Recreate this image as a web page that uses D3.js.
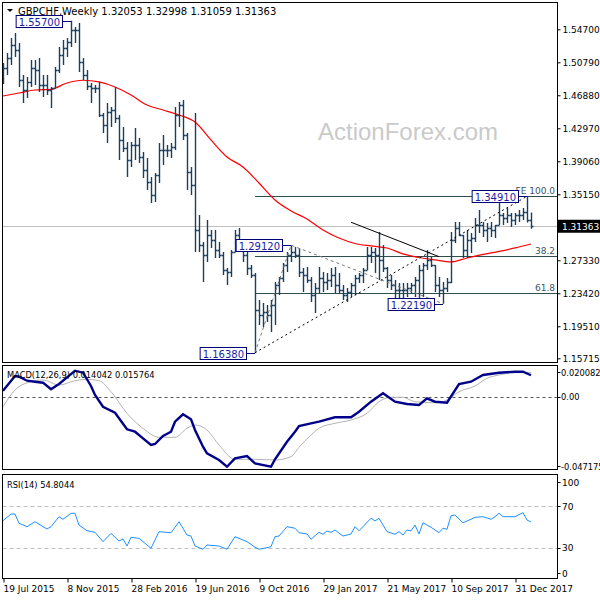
<!DOCTYPE html>
<html><head><meta charset="utf-8">
<script src="https://cdn.jsdelivr.net/npm/d3@7"></script>
<style>
body{margin:0;background:#fff}
svg{display:block}
text{font-family:'DejaVu Sans',sans-serif;font-size:9px}
</style>
</head><body><svg id="c" width="600" height="600"></svg>
<script>
// ---------------- DATA ----------------
const symbolTitle = "GBPCHF,Weekly";
const lastOHLC = [1.32053, 1.32998, 1.31059, 1.31363];
const opens = [1.4869,1.5012,1.5130,1.5284,1.5225,1.4869,1.4751,1.4846,1.5012,1.4988,
1.4810,1.4810,1.4751,1.4775,1.4988,1.5166,1.5249,1.5320,1.5462,1.5462,
1.5083,1.4929,1.4798,1.4775,1.4775,1.4455,1.4336,1.4490,1.4514,1.4419,
1.4159,1.4064,1.3922,1.4099,1.4099,1.3957,1.3803,1.3661,1.3507,1.3744,
1.4040,1.4040,1.4040,1.4076,1.4455,1.4573,1.4218,1.3779,1.3625,1.3092,
1.2914,1.2796,1.3033,1.2974,1.2855,1.2796,1.2618,1.2595,1.2832,1.3033,
1.2938,1.2796,1.2642,1.2559,1.2144,1.2085,1.2121,1.2085,1.2204,1.2441,
1.2524,1.2678,1.2796,1.2832,1.2796,1.2595,1.2559,1.2500,1.2322,1.2405,
1.2524,1.2476,1.2500,1.2559,1.2441,1.2381,1.2322,1.2358,1.2441,1.2524,
1.2559,1.2618,1.2796,1.2832,1.2796,1.2737,1.2642,1.2500,1.2441,1.2381,
1.2381,1.2381,1.2405,1.2441,1.2500,1.2618,1.2678,1.2737,1.2678,1.2441,
1.2381,1.2405,1.2476,1.2974,1.3116,1.3033,1.2855,1.2974,1.2997,1.3151,
1.3151,1.3092,1.3116,1.3092,1.3151,1.3270,1.3234,1.3270,1.3211,1.3270,
1.3270,1.3306,1.32053];
const highs = [1.5071,1.5189,1.5367,1.5426,1.5308,1.4929,1.4905,1.5106,1.5106,1.5130,
1.4929,1.4929,1.4786,1.5023,1.5260,1.5343,1.5367,1.5570,1.5497,1.5545,
1.5130,1.4988,1.4834,1.4810,1.4846,1.4478,1.4597,1.4550,1.4786,1.4455,
1.4313,1.4135,1.4135,1.4301,1.4182,1.4016,1.3945,1.3720,1.3767,1.4123,
1.4218,1.4099,1.4123,1.4550,1.4609,1.4632,1.4241,1.3839,1.4478,1.3270,
1.2950,1.3211,1.3092,1.3092,1.2950,1.2832,1.2642,1.2855,1.3092,1.3116,
1.2950,1.2855,1.2678,1.2583,1.2263,1.2227,1.2204,1.2263,1.2476,1.2535,
1.2701,1.2832,1.2912,1.2891,1.2879,1.2642,1.2654,1.2535,1.2464,1.2654,
1.2595,1.2583,1.2642,1.2654,1.2583,1.2441,1.2405,1.2464,1.2559,1.2583,
1.2642,1.2891,1.2891,1.2879,1.3068,1.2914,1.2654,1.2559,1.2500,1.2464,
1.2464,1.2464,1.2464,1.2535,1.2678,1.2701,1.2855,1.2772,1.2678,1.2535,
1.2476,1.2524,1.3068,1.3187,1.3187,1.3033,1.3092,1.3057,1.3234,1.3329,
1.3187,1.3175,1.3187,1.3151,1.3471,1.3294,1.3353,1.3294,1.3294,1.3329,
1.3353,1.3491,1.32998];
const lows = [1.4822,1.4929,1.5047,1.5142,1.4786,1.4597,1.4656,1.4786,1.4810,1.4727,
1.4668,1.4692,1.4538,1.4775,1.4952,1.5047,1.5142,1.5260,1.5308,1.4964,
1.4869,1.4751,1.4597,1.4715,1.4431,1.4241,1.4123,1.4313,1.4360,1.3922,
1.4016,1.3720,1.3839,1.3922,1.3886,1.3708,1.3566,1.3412,1.3424,1.3649,
1.3862,1.3957,1.3945,1.4040,1.4313,1.4159,1.3566,1.3507,1.2832,1.2832,
1.2476,1.2713,1.2879,1.2760,1.2760,1.2559,1.2441,1.2535,1.2832,1.2891,
1.2713,1.2559,1.2524,1.1638,1.1967,1.1943,1.2002,1.1884,1.1967,1.2322,
1.2476,1.2595,1.2713,1.2760,1.2535,1.2358,1.2464,1.2239,1.2109,1.2346,
1.2358,1.2381,1.2417,1.2346,1.2346,1.2263,1.2239,1.2298,1.2322,1.2464,
1.2464,1.2618,1.2701,1.2583,1.2500,1.2595,1.2405,1.2381,1.2263,1.2263,
1.2263,1.2298,1.2346,1.2298,1.2287,1.2298,1.2618,1.2654,1.2358,1.2298,
1.2219,1.2358,1.2464,1.2938,1.3033,1.2760,1.2760,1.2820,1.2950,1.3057,
1.3009,1.2950,1.3009,1.2997,1.3151,1.3151,1.3175,1.3128,1.3151,1.3187,
1.3211,1.3180,1.31059];
const closes = [1.5012,1.5130,1.5284,1.5225,1.4869,1.4751,1.4846,1.5012,1.4988,1.4810,
1.4810,1.4751,1.4775,1.4988,1.5166,1.5249,1.5320,1.5462,1.5462,1.5083,
1.4929,1.4798,1.4775,1.4775,1.4455,1.4336,1.4490,1.4514,1.4419,1.4159,
1.4064,1.3922,1.4099,1.4099,1.3957,1.3803,1.3661,1.3507,1.3744,1.4040,
1.4040,1.4040,1.4076,1.4455,1.4573,1.4218,1.3779,1.3625,1.3092,1.2914,
1.2796,1.3033,1.2974,1.2855,1.2796,1.2618,1.2595,1.2832,1.3033,1.2938,
1.2796,1.2642,1.2559,1.2144,1.2085,1.2121,1.2085,1.2204,1.2441,1.2524,
1.2678,1.2796,1.2832,1.2796,1.2595,1.2559,1.2500,1.2322,1.2405,1.2524,
1.2476,1.2500,1.2559,1.2441,1.2381,1.2322,1.2358,1.2441,1.2524,1.2559,
1.2618,1.2796,1.2832,1.2796,1.2737,1.2642,1.2500,1.2441,1.2381,1.2381,
1.2381,1.2405,1.2441,1.2500,1.2618,1.2678,1.2737,1.2678,1.2441,1.2381,
1.2405,1.2476,1.2974,1.3116,1.3033,1.2855,1.2974,1.2997,1.3151,1.3151,
1.3092,1.3116,1.3092,1.3151,1.3270,1.3234,1.3270,1.3211,1.3270,1.3270,
1.3306,1.3205,1.31363];

// red moving average (read every 4 bars)
const maIdx = [0,4,8,12,16,20,24,28,32,36,40,44,48,52,56,60,64,68,72,76,80,84,88,92,96,100,104,108,112,116,120,124,128,132];
const maVal = [1.4680,1.4715,1.4751,1.4759,1.4834,1.4866,1.4846,1.4786,1.4692,1.4573,1.4514,1.4455,1.4372,1.4159,1.3957,1.3839,1.3649,1.3448,1.3318,1.3223,1.3092,1.2997,1.2932,1.2903,1.2879,1.2808,1.2766,1.2737,1.2713,1.2760,1.2802,1.2838,1.2879,1.2926];

// price axis ticks
const priceTicks = [1.547,1.5079,1.4688,1.4297,1.3906,1.3515,1.2733,1.2342,1.1951,1.15715];

// swing pivots
const pivotIdx = [17,63,72,110,131];
const pivotVal = [1.557,1.1638,1.2912,1.2219,1.3491];

// fibonacci levels
const fibVal = [1.3493,1.2784,1.2347];
const fibLabel = ["FE 100.0","38.2","61.8"];
const fibStart = 63;

// trend line
const trendIdx = [87,109];
const trendVal = [1.3184,1.2776];

// MACD main and signal
const macdIdx = [0,3,4,6,8,10,12,14,16,18,20,22,23,25,28,29,31,33,35,37,38,40,42,43,45,47,48,50,51,54,56,58,61,63,67,68,71,73,74,77,79,83,87,89,92,95,98,101,104,106,108,111,114,117,120,124,128,130,132];
const macdVal = [0.00395,0.01355,0.01309,0.01048,0.00983,0.00918,0.00487,0.00833,0.0127,0.01701,0.01571,0.00702,0.00114,-0.0065,-0.01042,-0.01407,-0.02126,-0.02282,-0.02713,-0.03151,-0.03085,-0.02563,-0.02282,-0.01629,-0.01146,-0.01472,-0.02171,-0.03262,-0.03693,-0.0413,-0.04568,-0.04019,-0.03869,-0.04346,-0.04568,-0.04084,-0.02935,-0.02282,-0.0191,-0.01734,-0.01629,-0.01342,-0.01342,-0.00976,-0.00323,0.00225,-0.00323,-0.00473,-0.00539,-0.00101,-0.00323,-0.00388,0.00833,0.00983,0.0142,0.01571,0.01636,0.01636,0.014042];
const sigIdx = [0,3,7,10,14,18,21,24,27,31,35,39,43,46,48,51,54,58,63,68,72,74,77,79,83,87,91,94,97,100,103,108,111,114,118,121,124,128,132];
const sigVal = [-0.0065,0.00441,0.00983,0.01094,0.00767,0.01048,0.0114,0.01048,0.0033,-0.01081,-0.0206,-0.02648,-0.02648,-0.0206,-0.01845,-0.02171,-0.03151,-0.04084,-0.04084,-0.0413,-0.03915,-0.03301,-0.02498,-0.0206,-0.01734,-0.01518,-0.01081,-0.00323,-0.00036,-0.00036,-0.00323,-0.00388,-0.00212,0.0033,0.00702,0.01205,0.0142,0.01571,0.015764];
const macdMax = 0.020082, macdMin = -0.047175;

// RSI
const rsiIdx = [0,2,3,4,6,8,10,11,12,14,15,17,18,19,21,23,25,27,29,30,31,32,34,36,37,39,42,43,44,46,47,48,50,51,54,56,58,60,61,63,64,66,67,68,69,71,73,74,76,77,79,80,81,82,83,85,87,88,89,92,93,94,96,98,99,100,101,102,103,104,105,107,109,110,111,112,113,115,117,118,120,122,123,124,125,128,130,131,132];
const rsiVal = [56.1,62.5,62.5,53.6,50.3,55.1,50.3,48.1,50.3,59.9,57.4,63.2,63.2,51.9,46.4,44.9,35.9,43.9,36.5,38.5,31.7,40.1,39.1,32.7,29.5,45.5,44.5,49.7,55.1,42.3,41.3,31.7,28.6,32.7,31.7,28.6,40.7,37.5,35.9,30.5,28.6,30.1,31.1,40.7,41.3,50.3,48.8,44.5,43.3,38.2,44.9,43.0,46.2,44.9,47.1,41.3,43.3,50.3,46.4,58.4,55.8,58.4,45.5,43.0,45.5,42.3,47.1,46.2,51.9,43.3,54.1,49.7,44.5,48.8,47.8,60.9,61.5,54.1,57.4,59.3,59.9,57.4,59.9,63.2,59.9,59.9,63.8,56.7,54.8];
const rsiLast = "54.8044";
const rsiTicks = [100,70,30,0];

// date axis
const dateIdx = [0,16,32,48,64,80,96,112,128];
const dateLabel = ["19 Jul 2015","8 Nov 2015","28 Feb 2016","19 Jun 2016","9 Oct 2016","29 Jan 2017","21 May 2017","10 Sep 2017","31 Dec 2017"];

// ---------------- DRAW ----------------
const svg = d3.select('#c');
const LX = 2.5, RX = 557.5;
const P = {t:2.5, b:362.5}, M = {t:365.5, b:469.5}, S = {t:474.5, b:578.5};
const x = d3.scaleLinear().domain([0,132]).range([3,531]);
const y = d3.scaleLinear().domain([1.15715,1.547]).range([358.3,29.3]);
const ym = d3.scaleLinear().domain([macdMin,macdMax]).range([469,366]);
const yr = d3.scaleLinear().domain([0,100]).range([579,475]);
const f5 = d3.format('.5f');
const barColor = '#1b3e5c';

const defs = svg.append('defs');
[['cp',P],['cm',M],['cr',S]].forEach(([id,p])=>{
  defs.append('clipPath').attr('id',id).append('rect')
    .attr('x',LX).attr('y',p.t).attr('width',RX-LX).attr('height',p.b-p.t);
});

// ---- price panel
const gp = svg.append('g').attr('clip-path','url(#cp)');
gp.append('text').attr('x',318).attr('y',140).text('ActionForex.com')
  .style('font-family',"'Liberation Sans',Arial,sans-serif").style('font-size','24px').attr('fill','#cacaca');

// current price line
gp.append('line').attr('x1',LX).attr('x2',RX)
  .attr('y1',Math.round(y(lastOHLC[3]))+0.5).attr('y2',Math.round(y(lastOHLC[3]))+0.5)
  .attr('stroke','#c0c0c0');

// fib lines
fibVal.forEach((v,k)=>{
  const yy = Math.round(y(v))+0.5;
  gp.append('line').attr('x1',x(fibStart)).attr('x2',RX).attr('y1',yy).attr('y2',yy)
    .attr('stroke','#2f4f4f');
  gp.append('text').attr('x',555).attr('y',yy-3).attr('text-anchor','end')
    .attr('fill','#3a5566').text(fibLabel[k]);
});

// MA
const maPts = maIdx.map((d,i)=>[d,maVal[i]]);
gp.append('path').datum(maPts)
  .attr('d',d3.line().x(d=>x(d[0])).y(d=>y(d[1])).curve(d3.curveMonotoneX))
  .attr('fill','none').attr('stroke','#ff0000').attr('stroke-width',1.2);

// OHLC bars
const bars = d3.range(opens.length).map(i=>({i,o:opens[i],h:highs[i],l:lows[i],c:closes[i]}));
gp.append('g').selectAll('path').data(bars).join('path')
  .attr('d',d=>{
    const xx = x(d.i)+0.5;
    const yo = Math.round(y(d.o))+0.5, yc = Math.round(y(d.c))+0.5;
    return `M${xx},${y(d.h)}V${y(d.l)}M${xx-2},${yo}H${xx}M${xx},${yc}H${xx+2}`;
  })
  .attr('fill','none').attr('stroke',barColor).attr('stroke-width',1.4);

// dashed pattern lines
const ln = d3.line().x(d=>x(d[0])).y(d=>y(d[1]));
gp.append('path').datum([[pivotIdx[1],pivotVal[1]],[pivotIdx[2],pivotVal[2]],[pivotIdx[3],pivotVal[3]]])
  .attr('d',ln).attr('fill','none').attr('stroke','#7a7a7a').attr('stroke-dasharray','3,3');
gp.append('path').datum([[pivotIdx[1],pivotVal[1]],[pivotIdx[4],pivotVal[4]]])
  .attr('d',ln).attr('fill','none').attr('stroke','#000').attr('stroke-dasharray','2,3');
gp.append('path').datum(trendIdx.map((d,i)=>[d,trendVal[i]]))
  .attr('d',ln).attr('fill','none').attr('stroke','#000');

// pivot labels
pivotIdx.forEach((idx,k)=>{
  const px = x(idx), py = Math.round(y(pivotVal[k]))+0.5;
  const g = gp.append('g');
  const t = g.append('text').attr('fill','#1c1ca8').style('font-size','10px').text(f5(pivotVal[k]));
  const w = t.node().getComputedTextLength();
  const right = Math.round(px-9)+0.5;
  const left = right - w - 5;
  g.insert('rect','text').attr('x',left).attr('y',py-6).attr('width',w+5).attr('height',12)
    .attr('fill','#fff').attr('stroke','#00007a');
  t.attr('x',left+2.5).attr('y',py+4);
  g.append('line').attr('x1',right).attr('x2',px).attr('y1',py).attr('y2',py).attr('stroke','#00007a');
});

// title
svg.append('path').attr('d','M7,9H13L10,12Z').attr('fill','#000');
svg.append('text').attr('x',18).attr('y',15).attr('fill','#000').style('font-size','10px')
  .text(symbolTitle+' '+lastOHLC.map(f5).join(' '));

// ---- MACD panel
const gm = svg.append('g').attr('clip-path','url(#cm)');
gm.append('line').attr('x1',LX).attr('x2',RX).attr('y1',Math.round(ym(0))+0.5).attr('y2',Math.round(ym(0))+0.5)
  .attr('stroke','#555').attr('stroke-dasharray','3,3');
gm.append('path').datum(sigIdx.map((d,i)=>[d,sigVal[i]]))
  .attr('d',d3.line().x(d=>x(d[0])).y(d=>ym(d[1])).curve(d3.curveMonotoneX))
  .attr('fill','none').attr('stroke','#b4b4b4').attr('stroke-width',1);
gm.append('path').datum(macdIdx.map((d,i)=>[d,macdVal[i]]))
  .attr('d',d3.line().x(d=>x(d[0])).y(d=>ym(d[1])))
  .attr('fill','none').attr('stroke','#00008b').attr('stroke-width',2.4);
gm.append('text').attr('x',7).attr('y',378).attr('fill','#000').style('font-size','8.3px')
  .text('MACD(12,26,9) '+macdVal[macdVal.length-1].toFixed(6)+' '+sigVal[sigVal.length-1].toFixed(6));

// ---- RSI panel
const gr = svg.append('g').attr('clip-path','url(#cr)');
[70,30].forEach(v=>{
  gr.append('line').attr('x1',LX).attr('x2',RX).attr('y1',Math.round(yr(v))+0.5).attr('y2',Math.round(yr(v))+0.5)
    .attr('stroke','#c0c0c0').attr('stroke-dasharray','4,3');
});
gr.append('path').datum(rsiIdx.map((d,i)=>[d,rsiVal[i]]))
  .attr('d',d3.line().x(d=>x(d[0])).y(d=>yr(d[1])))
  .attr('fill','none').attr('stroke','#1e90ff').attr('stroke-width',1);
gr.append('text').attr('x',7).attr('y',488).attr('fill','#000').style('font-size','8.3px').text('RSI(14) '+rsiLast);

// ---- panel frames
[P,M,S].forEach(p=>{
  svg.append('rect').attr('x',LX).attr('y',p.t).attr('width',RX-LX).attr('height',p.b-p.t)
    .attr('fill','none').attr('stroke','#000');
});

// ---- right axes
const ay = svg.append('g').attr('transform',`translate(${RX},0)`)
  .call(d3.axisRight(y).tickValues(priceTicks).tickFormat(f5).tickSize(3).tickPadding(2));
ay.select('.domain').remove();
ay.selectAll('text').style('font-size','9px').style('font-family','DejaVu Sans').attr('fill','#000');
ay.selectAll('line').attr('stroke','#000');
// current price badge
const cy = y(lastOHLC[3]);
svg.append('rect').attr('x',558).attr('y',cy-6.5).attr('width',42).attr('height',13).attr('fill','#000');
svg.append('text').attr('x',562).attr('y',cy+3.5).attr('fill','#fff').text(f5(lastOHLC[3]));

// MACD axis labels
const macdLab = [[macdMax,ym(macdMax)+6],[0,ym(0)],[macdMin,ym(macdMin)-3]];
macdLab.forEach(([v,yy])=>{
  svg.append('line').attr('x1',RX).attr('x2',RX+3).attr('y1',Math.round(yy)+0.5).attr('y2',Math.round(yy)+0.5).attr('stroke','#000');
  svg.append('text').attr('x',561).attr('y',yy+3.5).attr('fill','#000').style('font-size','8.3px')
    .text(v===0?'0.00':v.toFixed(6));
});
// RSI axis labels
rsiTicks.forEach(v=>{
  let yy = yr(v);
  if(v===100) yy += 7; if(v===0) yy -= 6;
  svg.append('line').attr('x1',RX).attr('x2',RX+3).attr('y1',Math.round(yy)+0.5).attr('y2',Math.round(yy)+0.5).attr('stroke','#000');
  svg.append('text').attr('x',562).attr('y',yy+3.5).attr('fill','#000').text(v);
});

// ---- date axis
const ax = svg.append('g').attr('transform',`translate(0,${S.b})`)
  .call(d3.axisBottom(x).tickValues(dateIdx).tickFormat((d,i)=>dateLabel[i]).tickSize(4).tickPadding(3));
ax.select('.domain').remove();
ax.selectAll('line').attr('stroke','#000').attr('transform','translate(0.5,0)');
ax.selectAll('text').attr('text-anchor','start').attr('x',0).style('font-size','9px').style('font-family','DejaVu Sans').attr('fill','#000');
</script>
</body></html>
